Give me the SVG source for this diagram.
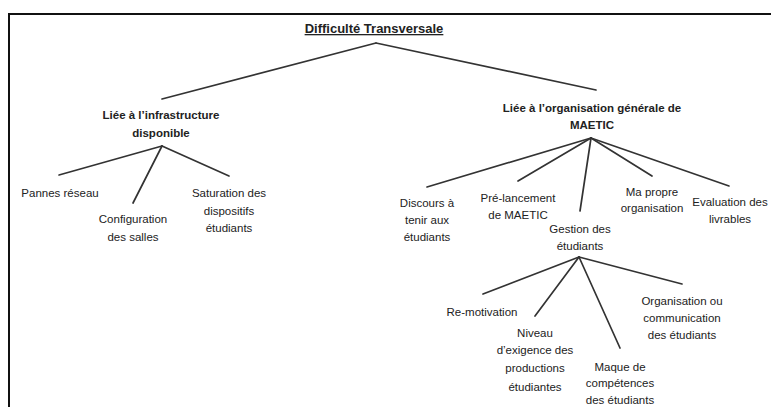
<svg xmlns="http://www.w3.org/2000/svg" width="771" height="407" viewBox="0 0 771 407">
<style>
text{font-family:"Liberation Sans",Arial,sans-serif;font-size:11.5px;fill:#222;text-anchor:middle}
.b{font-weight:bold}
.t{font-weight:bold;font-size:13px;text-decoration:underline}
.c line{stroke:#333;stroke-width:1.7;stroke-linecap:round}
</style>
<rect width="771" height="407" fill="#fff"/>
<path d="M9,407 V14 H771" fill="none" stroke="#111" stroke-width="2"/>
<g class="c" id="connectors">
<line x1="376" y1="43" x2="162" y2="99"/>
<line x1="376" y1="43" x2="596" y2="90"/>
<line x1="162" y1="146" x2="59" y2="175"/>
<line x1="162" y1="146" x2="133" y2="203"/>
<line x1="162" y1="146" x2="229" y2="176"/>
<line x1="591" y1="138" x2="427" y2="187"/>
<line x1="591" y1="138" x2="518" y2="181"/>
<line x1="591" y1="138" x2="580" y2="211"/>
<line x1="591" y1="138" x2="652" y2="176"/>
<line x1="591" y1="138" x2="729" y2="186"/>
<line x1="579" y1="257" x2="483" y2="294"/>
<line x1="579" y1="257" x2="535" y2="316"/>
<line x1="579" y1="257" x2="620" y2="348"/>
<line x1="579" y1="257" x2="682" y2="284"/>
</g>
<g id="root"><text class="t" x="374" y="33">Difficulté Transversale</text></g>
<g id="infra"><text class="b" x="161" y="119">Liée à l’infrastructure</text><text class="b" x="161" y="137">disponible</text></g>
<g id="orga"><text class="b" x="592" y="112">Liée à l’organisation générale de</text><text class="b" x="592" y="129">MAETIC</text></g>
<g id="pannes"><text x="60" y="197">Pannes réseau</text></g>
<g id="config"><text x="133" y="223">Configuration</text><text x="133" y="241">des salles</text></g>
<g id="saturation"><text x="229" y="197">Saturation des</text><text x="229" y="215">dispositifs</text><text x="229" y="232">étudiants</text></g>
<g id="discours"><text x="427" y="207">Discours à</text><text x="427" y="224">tenir aux</text><text x="427" y="241">étudiants</text></g>
<g id="prelancement"><text x="518" y="202">Pré-lancement</text><text x="518" y="219">de MAETIC</text></g>
<g id="gestion"><text x="580" y="233">Gestion des</text><text x="580" y="250">étudiants</text></g>
<g id="mapropre"><text x="652" y="196">Ma propre</text><text x="652" y="212">organisation</text></g>
<g id="evaluation"><text x="730" y="206">Evaluation des</text><text x="730" y="223">livrables</text></g>
<g id="remotivation"><text x="482" y="316">Re-motivation</text></g>
<g id="niveau"><text x="535" y="337">Niveau</text><text x="535" y="354">d’exigence des</text><text x="535" y="372">productions</text><text x="535" y="391">étudiantes</text></g>
<g id="maque"><text x="620" y="371">Maque de</text><text x="620" y="387">compétences</text><text x="620" y="404">des étudiants</text></g>
<g id="organisation"><text x="682" y="305">Organisation ou</text><text x="682" y="322">communication</text><text x="682" y="339">des étudiants</text></g>
</svg>
